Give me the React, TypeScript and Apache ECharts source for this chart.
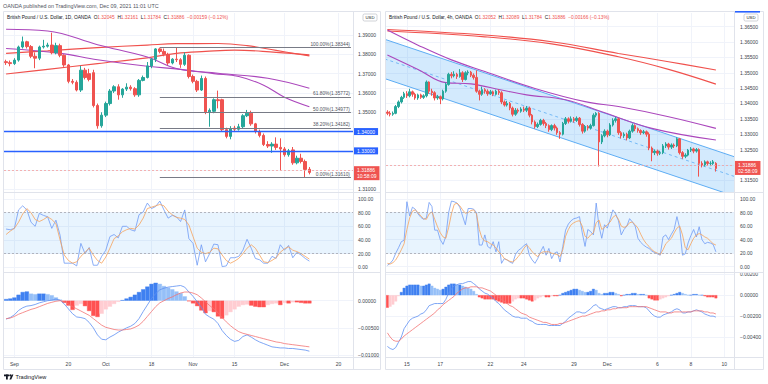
import React, { useEffect, useRef } from 'react';
import * as echarts from 'echarts';

// ---------------- categories ----------------
function weekdays(start: string, count: number): string[] {
  const out: string[] = [];
  const d = new Date(start + 'T00:00:00Z');
  while (out.length < count) {
    const w = d.getUTCDay();
    if (w !== 0 && w !== 6) out.push(d.toISOString().slice(0, 10));
    d.setUTCDate(d.getUTCDate() + 1);
  }
  return out;
}
const leftDates = weekdays('2021-08-30', 84);
const leftTickLabels: Record<string, string> = {
  '2021-09-01': 'Sep', '2021-09-20': '20', '2021-10-01': 'Oct', '2021-10-18': '18',
  '2021-11-01': 'Nov', '2021-11-15': '15', '2021-12-01': 'Dec', '2021-12-20': '20',
};
const hours4 = ['00', '04', '08', '12', '16', '20'];
const rightPrefix = ['11-12 00', '11-12 04', '11-12 08', '11-12 12', '11-12 16', '11-12 20', '11-14 21'];
const rightDates: string[] = rightPrefix
  .concat(...weekdays('2021-11-15', 20).map((d) => hours4.map((h) => d.slice(5) + ' ' + h)))
  .slice(0, 125);
const rightTickLabels: Record<string, string> = {
  '11-15 00': '15', '11-17 00': '17', '11-22 00': '22', '11-24 00': '24', '11-29 00': '29',
  '12-01 00': 'Dec', '12-06 00': '6', '12-08 00': '8', '12-10 00': '10',
};

// ---------------- left (1D) ----------------
// [open, close, low, high]
const leftOHLC = [
  [1.3762, 1.3757, 1.3745, 1.3772], [1.3757, 1.3752, 1.3738, 1.3768], [1.3752, 1.3770, 1.3745, 1.3780],
  [1.3770, 1.3838, 1.3762, 1.3845], [1.3838, 1.3865, 1.3830, 1.3892], [1.3865, 1.3840, 1.3830, 1.3870],
  [1.3840, 1.3790, 1.3780, 1.3848], [1.3790, 1.3780, 1.3728, 1.3810], [1.3780, 1.3838, 1.3770, 1.3845],
  [1.3838, 1.3842, 1.3830, 1.3875], [1.3842, 1.3848, 1.3835, 1.3860], [1.3848, 1.3808, 1.3800, 1.3912],
  [1.3808, 1.3845, 1.3800, 1.3860], [1.3845, 1.3795, 1.3785, 1.3855], [1.3795, 1.3745, 1.3735, 1.3800],
  [1.3745, 1.3660, 1.3650, 1.3750], [1.3660, 1.3655, 1.3645, 1.3672], [1.3655, 1.3615, 1.3608, 1.3665],
  [1.3615, 1.3718, 1.3605, 1.3740], [1.3718, 1.3680, 1.3670, 1.3730], [1.3700, 1.3670, 1.3660, 1.3725],
  [1.3705, 1.3535, 1.3525, 1.3720], [1.3535, 1.3430, 1.3415, 1.3545], [1.3430, 1.3485, 1.3420, 1.3500],
  [1.3485, 1.3545, 1.3475, 1.3555], [1.3545, 1.3610, 1.3535, 1.3620], [1.3610, 1.3632, 1.3600, 1.3640],
  [1.3632, 1.3590, 1.3565, 1.3645], [1.3590, 1.3620, 1.3575, 1.3625], [1.3620, 1.3630, 1.3610, 1.3650],
  [1.3630, 1.3622, 1.3612, 1.3640], [1.3622, 1.3590, 1.3580, 1.3630], [1.3590, 1.3665, 1.3580, 1.3672],
  [1.3665, 1.3680, 1.3660, 1.3690], [1.3680, 1.3740, 1.3675, 1.3760], [1.3740, 1.3775, 1.3728, 1.3780],
  [1.3775, 1.3828, 1.3760, 1.3832], [1.3828, 1.3815, 1.3805, 1.38344], [1.3815, 1.3800, 1.3790, 1.3830],
  [1.3800, 1.3755, 1.3745, 1.3808], [1.3755, 1.3775, 1.3748, 1.3780], [1.3775, 1.3772, 1.3760, 1.3835],
  [1.3772, 1.3748, 1.3730, 1.3780], [1.3748, 1.3795, 1.3740, 1.3810], [1.3795, 1.3685, 1.3675, 1.3800],
  [1.3685, 1.3660, 1.3650, 1.3695], [1.3660, 1.3615, 1.3605, 1.3668], [1.3615, 1.3675, 1.3610, 1.3690],
  [1.3675, 1.3502, 1.3490, 1.3685], [1.3502, 1.3510, 1.3425, 1.3520], [1.3505, 1.3565, 1.3495, 1.3572],
  [1.3565, 1.3560, 1.3520, 1.3612], [1.3565, 1.3410, 1.3400, 1.3570], [1.3410, 1.3375, 1.3365, 1.3420],
  [1.3375, 1.3415, 1.3360, 1.3428], [1.3418, 1.3412, 1.3400, 1.3430], [1.3412, 1.3425, 1.3405, 1.3440],
  [1.3425, 1.3482, 1.3418, 1.3490], [1.3482, 1.3495, 1.3475, 1.3512], [1.3495, 1.3440, 1.3430, 1.3508],
  [1.3440, 1.3400, 1.3390, 1.3445], [1.3400, 1.3380, 1.3370, 1.3410], [1.3380, 1.3333, 1.3325, 1.3390],
  [1.3333, 1.3325, 1.3315, 1.3350], [1.3325, 1.3335, 1.3290, 1.3345], [1.3335, 1.3318, 1.3305, 1.3370],
  [1.3318, 1.3310, 1.3200, 1.3365], [1.3310, 1.3280, 1.3270, 1.3320], [1.3280, 1.3300, 1.3270, 1.3310],
  [1.3305, 1.3238, 1.3228, 1.3320], [1.3238, 1.3262, 1.3230, 1.3275], [1.3262, 1.3245, 1.3235, 1.3285],
  [1.3245, 1.3204, 1.3161, 1.3255], [1.32045, 1.31886, 1.31784, 1.32161],
];
const leftMaRedA = [[0, 1.3805], [10, 1.3818], [22, 1.3835], [34, 1.3848], [41, 1.3855], [51, 1.3856], [58, 1.3845], [65, 1.3820], [73, 1.3792]];
const leftMaRedB = [[0, 1.3698], [10, 1.3722], [22, 1.3752], [34, 1.3782], [41, 1.3805], [48, 1.3815], [55, 1.3822], [65, 1.3810], [73, 1.3797]];
const leftMaPurpleA = [[0, 1.3930], [10, 1.3921], [22, 1.3850], [34, 1.3786], [41, 1.3727], [51, 1.3702], [63, 1.3676], [73, 1.3624]];
const leftMaPurpleB = [[0, 1.3830], [13, 1.3805], [22, 1.3772], [34, 1.3738], [42, 1.3722], [50, 1.3700], [56, 1.3685], [62, 1.3640], [67, 1.3578], [73, 1.3529]];
const fibHigh = 1.38344;
const fibLow = 1.31610;
const fibRatios = [1, 0.618, 0.5, 0.382, 0];
const fibStartIndex = 37;
const leftLevels = [1.34, 1.33];
const leftLast = { price: 1.31886, price_text: '1.31886', timer: '10:58:09' };
const leftRsiK = [56, 55, 57, 84, 90, 84, 66, 60, 79, 76, 74, 57, 69, 47, 6, 6, 6, 2, 35, 20, 29, 3, 3, 16, 25, 45, 48, 43, 60, 60, 55, 53, 77, 81, 94, 86, 89, 97, 84, 72, 76, 74, 67, 84, 42, 35, 3, 33, 8, 20, 34, 33, 1, 2, 14, 14, 16, 25, 41, 28, 13, 11, 6, 6, 16, 13, 33, 25, 32, 14, 22, 18, 13, 9];
const leftRsiD = [48, 53, 57, 66, 78, 86, 80, 70, 67, 70, 74, 70, 64, 40, 18, 10, 6, 8, 16, 22, 28, 18, 10, 6, 15, 28, 42, 46, 52, 55, 57, 56, 62, 72, 86, 88, 90, 92, 90, 82, 77, 73, 72, 70, 62, 45, 28, 22, 20, 22, 28, 27, 18, 10, 6, 9, 13, 20, 28, 33, 28, 18, 8, 7, 10, 14, 22, 27, 30, 25, 23, 20, 16, 12];
const leftMacd = [-0.0034, -0.0031, -0.0026, -0.0018, -0.0013, -0.0010, -0.0009, -0.0007, -0.0004, -0.0002, 0.0000, 0.0001, 0.0003, 0.0001, -0.0006, -0.0015, -0.0024, -0.0030, -0.0031, -0.0033, -0.0040, -0.0050, -0.0063, -0.0071, -0.0072, -0.0067, -0.0063, -0.0058, -0.0054, -0.0050, -0.0047, -0.0042, -0.0033, -0.0020, -0.0008, 0.0004, 0.0013, 0.0020, 0.0023, 0.0025, 0.0026, 0.0027, 0.0028, 0.0025, 0.0016, 0.0008, -0.0002, -0.0012, -0.0025, -0.0030, -0.0034, -0.0042, -0.0055, -0.0064, -0.0071, -0.0075, -0.0073, -0.0066, -0.0063, -0.0067, -0.0072, -0.0076, -0.0079, -0.0082, -0.0085, -0.0086, -0.0087, -0.0087, -0.0088, -0.0088, -0.0089, -0.0090, -0.0091, -0.0093];
const leftSignal = [-0.0033, -0.0032, -0.0029, -0.0025, -0.0022, -0.0019, -0.0016, -0.0014, -0.0011, -0.0008, -0.0005, -0.0003, -0.0001, 0.0000, -0.0002, -0.0006, -0.0011, -0.0015, -0.0019, -0.0023, -0.0027, -0.0033, -0.0039, -0.0045, -0.0049, -0.0051, -0.0053, -0.0054, -0.0054, -0.0053, -0.0052, -0.0049, -0.0045, -0.0038, -0.0029, -0.0020, -0.0011, -0.0004, 0.0000, 0.0004, 0.0007, 0.0011, 0.0014, 0.0016, 0.0016, 0.0014, 0.0011, 0.0005, -0.0002, -0.0009, -0.0015, -0.0022, -0.0031, -0.0039, -0.0046, -0.0052, -0.0057, -0.0060, -0.0062, -0.0064, -0.0066, -0.0068, -0.0070, -0.0072, -0.0074, -0.0076, -0.0077, -0.0079, -0.0080, -0.0081, -0.0082, -0.0083, -0.0084, -0.0085];
const leftHist = [0.0003, 0.0004, 0.0006, 0.0011, 0.0016, 0.0017, 0.0013, 0.0012, 0.0013, 0.0013, 0.0012, 0.0010, 0.0006, 0.0002, -0.0004, -0.0009, -0.0017, -0.0009, -0.0006, -0.0010, -0.0019, -0.0028, -0.0030, -0.0024, -0.0016, -0.0011, -0.0006, -0.0002, 0.0001, 0.0004, 0.0007, 0.0011, 0.0016, 0.0021, 0.0026, 0.0031, 0.0033, 0.0031, 0.0027, 0.0024, 0.0021, 0.0017, 0.0014, 0.0008, -0.0001, -0.0005, -0.0010, -0.0018, -0.0023, -0.0019, -0.0021, -0.0029, -0.0033, -0.0027, -0.0021, -0.0016, -0.0011, -0.0008, -0.0007, -0.0009, -0.0011, -0.0012, -0.0012, -0.0008, -0.0006, -0.0005, -0.0008, -0.0004, -0.0005, -0.0003, -0.0003, -0.0004, -0.0005, -0.0005];
const leftPriceTicks = [1.31, 1.32, 1.33, 1.34, 1.35, 1.36, 1.37, 1.38, 1.39];
// 1.32000 sits under the last-price tag in the reference
const leftPriceLabels = [1.31, 1.33, 1.34, 1.35, 1.36, 1.37, 1.38, 1.39];
const leftMacdTicks = [0, -0.005, -0.01];

// ---------------- right (4h) ----------------
const rightOHLC = [
  [1.3372, 1.3368, 1.3362, 1.3378], [1.3368, 1.3365, 1.3358, 1.3375], [1.3365, 1.3368, 1.3360, 1.3374],
  [1.3368, 1.3390, 1.3365, 1.3395], [1.3390, 1.3405, 1.3385, 1.3410], [1.3405, 1.3420, 1.3400, 1.3425],
  [1.3420, 1.3432, 1.3415, 1.3438], [1.3432, 1.3425, 1.3418, 1.3440], [1.3425, 1.3438, 1.3420, 1.3448],
  [1.3438, 1.3430, 1.3422, 1.3442], [1.3430, 1.3418, 1.3412, 1.3435], [1.3418, 1.3428, 1.3412, 1.3432],
  [1.3428, 1.3420, 1.3415, 1.3432], [1.3420, 1.3425, 1.3415, 1.3430], [1.3425, 1.3470, 1.3420, 1.3475],
  [1.3470, 1.3440, 1.3432, 1.3472], [1.3440, 1.3435, 1.3425, 1.3448], [1.3435, 1.3418, 1.3410, 1.3440],
  [1.3418, 1.3422, 1.3412, 1.3428], [1.3422, 1.3415, 1.3398, 1.3426], [1.3415, 1.3440, 1.3410, 1.3445],
  [1.3440, 1.3462, 1.3435, 1.3468], [1.3462, 1.3495, 1.3458, 1.3500], [1.3495, 1.3490, 1.3482, 1.3502],
  [1.3490, 1.3495, 1.3485, 1.3505], [1.3495, 1.3488, 1.3480, 1.3500], [1.3488, 1.3500, 1.3484, 1.3512],
  [1.3500, 1.3478, 1.3470, 1.3505], [1.3478, 1.3500, 1.3475, 1.3505], [1.3500, 1.3502, 1.3492, 1.3508],
  [1.3502, 1.3492, 1.3486, 1.3506], [1.3492, 1.3485, 1.3478, 1.3498], [1.3485, 1.3440, 1.3435, 1.3508],
  [1.3440, 1.3430, 1.3410, 1.3445], [1.3430, 1.3445, 1.3425, 1.3455], [1.3445, 1.3440, 1.3432, 1.3450],
  [1.3440, 1.3432, 1.3425, 1.3446], [1.3432, 1.3438, 1.3428, 1.3444], [1.3438, 1.3430, 1.3424, 1.3442],
  [1.3430, 1.3440, 1.3426, 1.3445], [1.3440, 1.3435, 1.3428, 1.3446], [1.3435, 1.3405, 1.3398, 1.3440],
  [1.3405, 1.3395, 1.3390, 1.3410], [1.3395, 1.3400, 1.3390, 1.3408], [1.3400, 1.3385, 1.3378, 1.3405],
  [1.3385, 1.3365, 1.3358, 1.3390], [1.3365, 1.3378, 1.3360, 1.3385], [1.3378, 1.3375, 1.3368, 1.3384],
  [1.3375, 1.3382, 1.3370, 1.3388], [1.3382, 1.3378, 1.3372, 1.3390], [1.3378, 1.3385, 1.3372, 1.3392],
  [1.3385, 1.3362, 1.3355, 1.3390], [1.3362, 1.3340, 1.3332, 1.3366], [1.3340, 1.3325, 1.3318, 1.3345],
  [1.3325, 1.3332, 1.3320, 1.3338], [1.3332, 1.3345, 1.3328, 1.3350], [1.3345, 1.3335, 1.3328, 1.3350],
  [1.3335, 1.3328, 1.3320, 1.3340], [1.3328, 1.3315, 1.3308, 1.3332], [1.3315, 1.3328, 1.3310, 1.3332],
  [1.3328, 1.3320, 1.3312, 1.3334], [1.3320, 1.3305, 1.3298, 1.3325], [1.3305, 1.3300, 1.3285, 1.3310],
  [1.3300, 1.3335, 1.3296, 1.3340], [1.3335, 1.3350, 1.3330, 1.3356], [1.3350, 1.3342, 1.3335, 1.3355],
  [1.3342, 1.3350, 1.3338, 1.3358], [1.3350, 1.3345, 1.3338, 1.3356], [1.3345, 1.3352, 1.3340, 1.3358],
  [1.3352, 1.3332, 1.3325, 1.3356], [1.3332, 1.3310, 1.3302, 1.3336], [1.3310, 1.3325, 1.3305, 1.3330],
  [1.3325, 1.3320, 1.3312, 1.3330], [1.3320, 1.3328, 1.3315, 1.3334], [1.3328, 1.3362, 1.3325, 1.3368],
  [1.3362, 1.3368, 1.3355, 1.3372], [1.3368, 1.3275, 1.3195, 1.3372], [1.3275, 1.3295, 1.3268, 1.3300],
  [1.3295, 1.3310, 1.3290, 1.3316], [1.3310, 1.3298, 1.3290, 1.3315], [1.3298, 1.3330, 1.3294, 1.3336],
  [1.3330, 1.3345, 1.3325, 1.3352], [1.3345, 1.3350, 1.3338, 1.3356], [1.3350, 1.3305, 1.3298, 1.3354],
  [1.3305, 1.3295, 1.3286, 1.3310], [1.3295, 1.3300, 1.3288, 1.3306], [1.3300, 1.3288, 1.3280, 1.3305],
  [1.3288, 1.3310, 1.3284, 1.3315], [1.3310, 1.3328, 1.3305, 1.3335], [1.3328, 1.3318, 1.3310, 1.3332],
  [1.3318, 1.3312, 1.3305, 1.3322], [1.3312, 1.3305, 1.3298, 1.3316], [1.3305, 1.3308, 1.3300, 1.3314],
  [1.3308, 1.3300, 1.3292, 1.3312], [1.3300, 1.3255, 1.3248, 1.3306], [1.3255, 1.3240, 1.3212, 1.3260],
  [1.3240, 1.3245, 1.3232, 1.3250], [1.3245, 1.3238, 1.3230, 1.3250], [1.3238, 1.3240, 1.3232, 1.3246],
  [1.3240, 1.3262, 1.3235, 1.3268], [1.3262, 1.3268, 1.3255, 1.3274], [1.3268, 1.3258, 1.3250, 1.3272],
  [1.3258, 1.3265, 1.3252, 1.3270], [1.3265, 1.3262, 1.3255, 1.3270], [1.3262, 1.3285, 1.3258, 1.3290],
  [1.3285, 1.3240, 1.3234, 1.3288], [1.3240, 1.3228, 1.3220, 1.3245], [1.3228, 1.3232, 1.3222, 1.3238],
  [1.3232, 1.3248, 1.3228, 1.3252], [1.3248, 1.3252, 1.3242, 1.3258], [1.3252, 1.3245, 1.3238, 1.3256],
  [1.3245, 1.3250, 1.3240, 1.3255], [1.3250, 1.3205, 1.3162, 1.3254], [1.3205, 1.3200, 1.3192, 1.3212],
  [1.3200, 1.3210, 1.3195, 1.3215], [1.3210, 1.3205, 1.3198, 1.3214], [1.3205, 1.3205, 1.3196, 1.3212],
  [1.3205, 1.3210, 1.3200, 1.3216], [1.32052, 1.31886, 1.31784, 1.32089],
];
const rightMaRedA = [[0, 1.3641], [35, 1.3623], [59, 1.3601], [83, 1.3563], [101, 1.3536], [118, 1.3509]];
const rightMaRedB = [[0, 1.3636], [35, 1.3617], [59, 1.3594], [83, 1.3552], [101, 1.3511], [118, 1.3463]];
const rightMaPurpleA = [[0, 1.3639], [11, 1.3590], [23, 1.3542], [35, 1.3504], [53, 1.3449], [71, 1.3406], [83, 1.3390], [101, 1.3357], [118, 1.3319]];
const rightMaPurpleB = [[0, 1.3558], [11, 1.3511], [21, 1.3468], [30, 1.3464], [41, 1.3444], [50, 1.3428], [64, 1.3412], [77, 1.3373], [95, 1.3319], [118, 1.3281]];
// channel: [barIndex, price] endpoints
const channelUpper = [[-1, 1.36092], [125, 1.32255]];
const channelLower = [[-1, 1.34812], [125, 1.30975]];
const rightLast = { price: 1.31886, price_text: '1.31886', timer: '02:58:09' };
const rightRsiK = [2, 5, 10, 20, 28, 37, 39, 96, 75, 88, 85, 78, 73, 70, 72, 95, 89, 54, 54, 40, 33, 45, 80, 97, 96, 94, 88, 75, 62, 86, 86, 85, 80, 32, 32, 47, 30, 27, 37, 22, 37, 5, 12, 10, 7, 5, 18, 24, 27, 31, 34, 17, 10, 5, 12, 22, 30, 17, 27, 12, 20, 22, 7, 30, 54, 63, 68, 71, 72, 74, 50, 30, 55, 52, 47, 94, 60, 42, 62, 57, 70, 84, 78, 68, 47, 55, 60, 71, 66, 60, 42, 36, 32, 29, 27, 23, 21, 19, 17, 44, 47, 40, 48, 55, 74, 57, 17, 19, 35, 46, 55, 44, 59, 40, 34, 36, 35, 33, 22];
const rightRsiD = [5, 4, 6, 10, 17, 25, 34, 55, 72, 82, 84, 80, 75, 71, 70, 78, 81, 70, 59, 50, 44, 42, 58, 78, 92, 94, 90, 84, 79, 80, 83, 84, 78, 55, 42, 38, 37, 34, 32, 28, 22, 18, 12, 10, 8, 7, 10, 15, 20, 27, 32, 28, 22, 18, 15, 20, 22, 22, 22, 20, 19, 18, 15, 25, 45, 55, 62, 65, 67, 68, 60, 45, 42, 47, 50, 65, 69, 55, 58, 62, 66, 73, 76, 70, 60, 58, 60, 65, 66, 62, 57, 48, 40, 34, 30, 25, 22, 20, 18, 25, 34, 38, 42, 50, 57, 60, 47, 28, 25, 34, 42, 47, 49, 47, 44, 42, 38, 34, 32];
const rightMacd = [-0.0049, -0.0051, -0.0052, -0.0050, -0.0045, -0.0040, -0.0032, -0.0028, -0.0024, -0.0022, -0.0021, -0.0020, -0.0018, -0.0017, -0.0014, -0.0010, -0.0009, -0.0008, -0.0008, -0.0008, -0.0008, -0.0004, 0.0002, 0.0006, 0.0009, 0.0010, 0.0011, 0.0011, 0.0012, 0.0013, 0.0013, 0.0011, 0.0009, 0.0006, 0.0004, 0.0002, 0.0001, -0.0001, -0.0003, -0.0006, -0.0008, -0.0011, -0.0014, -0.0016, -0.0018, -0.0020, -0.0021, -0.0021, -0.0022, -0.0022, -0.0022, -0.0024, -0.0025, -0.0027, -0.0028, -0.0028, -0.0028, -0.0028, -0.0029, -0.0029, -0.0029, -0.0029, -0.0029, -0.0027, -0.0025, -0.0022, -0.0020, -0.0018, -0.0016, -0.0016, -0.0017, -0.0017, -0.0015, -0.0013, -0.0010, -0.0009, -0.0012, -0.0013, -0.0014, -0.0013, -0.0012, -0.0011, -0.0011, -0.0012, -0.0012, -0.0011, -0.0011, -0.0010, -0.0010, -0.0010, -0.0011, -0.0011, -0.0011, -0.0012, -0.0015, -0.0018, -0.0020, -0.0021, -0.0021, -0.0019, -0.0018, -0.0017, -0.0016, -0.0014, -0.0013, -0.0014, -0.0017, -0.0017, -0.0016, -0.0016, -0.0015, -0.0014, -0.0015, -0.0016, -0.0018, -0.0019, -0.0020, -0.0020, -0.0021];
const rightSignal = [-0.0036, -0.0040, -0.0043, -0.0044, -0.0044, -0.0042, -0.0039, -0.0037, -0.0035, -0.0033, -0.0031, -0.0029, -0.0027, -0.0025, -0.0023, -0.0021, -0.0019, -0.0017, -0.0014, -0.0012, -0.0009, -0.0007, -0.0005, -0.0003, -0.0001, 0.0002, 0.0004, 0.0006, 0.0007, 0.0007, 0.0008, 0.0008, 0.0008, 0.0007, 0.0007, 0.0006, 0.0005, 0.0004, 0.0002, 0.0000, -0.0002, -0.0004, -0.0006, -0.0008, -0.0010, -0.0011, -0.0013, -0.0015, -0.0017, -0.0018, -0.0019, -0.0021, -0.0022, -0.0023, -0.0024, -0.0025, -0.0026, -0.0026, -0.0027, -0.0028, -0.0028, -0.0028, -0.0027, -0.0027, -0.0026, -0.0025, -0.0024, -0.0023, -0.0022, -0.0021, -0.0020, -0.0020, -0.0019, -0.0018, -0.0017, -0.0016, -0.0016, -0.0015, -0.0015, -0.0014, -0.0014, -0.0013, -0.0013, -0.0012, -0.0012, -0.0012, -0.0012, -0.0011, -0.0011, -0.0011, -0.0011, -0.0011, -0.0011, -0.0011, -0.0012, -0.0013, -0.0014, -0.0015, -0.0016, -0.0016, -0.0016, -0.0017, -0.0017, -0.0016, -0.0016, -0.0016, -0.0016, -0.0016, -0.0016, -0.0016, -0.0015, -0.0015, -0.0015, -0.0015, -0.0016, -0.0016, -0.0017, -0.0017, -0.0018];
const rightHist = [-0.0012, -0.0011, -0.0009, -0.0006, -0.0001, 0.0003, 0.0007, 0.0009, 0.0010, 0.0010, 0.0010, 0.0010, 0.0009, 0.0009, 0.0010, 0.0011, 0.0009, 0.0007, 0.0006, 0.0005, 0.0006, 0.0008, 0.0010, 0.0011, 0.0011, 0.0010, 0.0010, 0.0009, 0.0008, 0.0007, 0.0006, 0.0004, 0.0001, -0.0002, -0.0003, -0.0004, -0.0004, -0.0004, -0.0004, -0.0005, -0.0006, -0.0007, -0.0008, -0.0008, -0.0008, -0.0006, -0.0004, -0.0003, -0.0003, -0.0003, -0.0004, -0.0005, -0.0006, -0.0005, -0.0003, -0.0002, -0.0001, -0.0002, -0.0002, -0.0001, -0.0001, -0.0001, 0.0000, 0.0002, 0.0003, 0.0004, 0.0005, 0.0006, 0.0006, 0.0005, 0.0004, 0.0003, 0.0003, 0.0004, 0.0006, 0.0005, 0.0002, 0.0001, 0.0002, 0.0002, 0.0003, 0.0003, 0.0002, 0.0001, -0.0001, 0.0000, 0.0001, 0.0001, 0.0002, 0.0002, 0.0001, 0.0001, 0.0001, 0.0000, -0.0003, -0.0004, -0.0005, -0.0005, -0.0004, -0.0003, -0.0002, -0.0001, 0.0000, 0.0001, 0.0002, 0.0003, 0.0002, 0.0001, 0.0000, 0.0000, 0.0001, 0.0001, 0.0000, 0.0000, -0.0001, -0.0002, -0.0002, -0.0002, -0.0003];
const rightPriceTicks = [1.315, 1.32, 1.325, 1.33, 1.335, 1.34, 1.345, 1.35, 1.355, 1.36, 1.365];
// 1.32000 sits under the last-price tag in the reference
const rightPriceLabels = [1.315, 1.325, 1.33, 1.335, 1.34, 1.345, 1.35, 1.355, 1.36, 1.365];
const rightMacdTicks = [0.002, 0, -0.002, -0.004];
const rsiTicks = [0, 20, 40, 60, 80, 100];

const leftHeader = { name: 'British Pound / U.S. Dollar, 1D, OANDA', o: '1.32045', h: '1.32161', l: '1.31784', c: '1.31886', chg: '\u22120.00159 (\u22120.12%)' };
const rightHeader = { name: 'British Pound / U.S. Dollar, 4h, OANDA', o: '1.32052', h: '1.32089', l: '1.31784', c: '1.31886', chg: '\u22120.00166 (\u22120.13%)' };
const publishedText = 'OANDA published on TradingView.com, Dec 09, 2021 11:01 UTC';

// ---------------- styling ----------------
const FONT = '"Liberation Sans", Arial, sans-serif';
const UP = '#26A69A';
const DOWN = '#EF5350';
const GRID_LINE = '#F0F3FA';
const AXIS_TEXT = '#3B3F4A';
const BORDER = '#E0E3EB';

function fmtMacd(v: number) {
  if (Math.abs(v) < 1e-12) return '0.00000';
  return (v < 0 ? '\u2212' : '') + Math.abs(v).toFixed(5);
}

function histData(vals: number[]) {
  return vals.map((v, i) => {
    const prev = i > 0 ? vals[i - 1] : v;
    let c;
    if (v >= 0) c = v >= prev ? '#3F80F1' : '#95BFF8';
    else c = v <= prev ? '#FF5252' : '#FFCDD2';
    return { value: v, itemStyle: { color: c, borderColor: c, borderWidth: 0.4 } };
  });
}

function mkX(gridIndex: number, data: string[], labels: Record<string, string>, showLabel: boolean) {
  return {
    type: 'category', gridIndex, data, boundaryGap: true,
    axisLine: { show: false }, axisTick: { show: false },
    axisLabel: {
      show: showLabel,
      interval: (_i: number, v: string) => labels[v] !== undefined,
      formatter: (v: string) => labels[v] ?? '',
      fontSize: 5, color: AXIS_TEXT, margin: 4, fontFamily: FONT,
    },
    splitLine: {
      show: true, alignWithLabel: true,
      interval: (_i: number, v: string) => labels[v] !== undefined,
      lineStyle: { color: GRID_LINE, width: 1 },
    },
  };
}

function mkY(gridIndex: number, min: number, max: number, ticks: number[], labelVals: number[], fmt: (v: number) => string, margin: number) {
  return {
    type: 'value', gridIndex, position: 'right', min, max, scale: true,
    axisLine: { show: false },
    axisTick: { show: false, customValues: ticks },
    axisLabel: { customValues: labelVals, formatter: fmt, fontSize: 5, color: AXIS_TEXT, margin, fontFamily: FONT },
    splitLine: { show: true, lineStyle: { color: GRID_LINE, width: 1 } },
  };
}

function maLine(xi: number, data: number[][], color: string, width: number) {
  return {
    type: 'line', xAxisIndex: xi, yAxisIndex: xi, data, smooth: 0.4, symbol: 'none', silent: true,
    lineStyle: { color, width }, z: 3,
  };
}

function lastPriceMark(last: { price: number; price_text: string; timer: string }) {
  return {
    yAxis: last.price,
    lineStyle: { color: '#F4A09E', width: 0.8, type: [2, 2] },
    label: {
      show: true, position: 'end', formatter: last.price_text + '\n' + last.timer,
      backgroundColor: DOWN, color: '#ffffff', fontSize: 5, lineHeight: 6, padding: [1, 3, 1, 3],
      distance: 1, offset: [0, 3], fontFamily: FONT, opacity: 1,
    },
  };
}

function rsiSeries(xi: number, k: number[], d: number[]) {
  return [
    {
      type: 'line', xAxisIndex: xi, yAxisIndex: xi, data: k, symbol: 'none', silent: true,
      lineStyle: { color: '#6E9BF5', width: 0.8 },
      markArea: { silent: true, itemStyle: { color: 'rgba(33,150,243,0.1)' }, data: [[{ yAxis: 80 }, { yAxis: 20 }]] },
      markLine: {
        silent: true, symbol: ['none', 'none'], label: { show: false },
        lineStyle: { color: '#A3A6AF', type: [2, 2], width: 0.8 }, data: [{ yAxis: 80 }, { yAxis: 20 }],
      },
    },
    { type: 'line', xAxisIndex: xi, yAxisIndex: xi, data: d, symbol: 'none', silent: true, lineStyle: { color: '#F6A25A', width: 0.8 } },
  ];
}

function macdSeries(xi: number, hist: number[], macd: number[], signal: number[]) {
  return [
    { type: 'bar', xAxisIndex: xi, yAxisIndex: xi, data: histData(hist), barWidth: '100%', silent: true },
    { type: 'line', xAxisIndex: xi, yAxisIndex: xi, data: macd, symbol: 'none', silent: true, lineStyle: { color: '#5E8FF2', width: 0.8 } },
    { type: 'line', xAxisIndex: xi, yAxisIndex: xi, data: signal, symbol: 'none', silent: true, lineStyle: { color: '#F27474', width: 0.8 } },
  ];
}

function header(x: number, h: typeof leftHeader) {
  return {
    type: 'text', x, y: 17, z: 20,
    style: {
      text: `{n|${h.name}}  {k|O}{v|${h.o}}  {k|H}{v|${h.h}}  {k|L}{v|${h.l}}  {k|C}{v|${h.c}}  {v|${h.chg}}`,
      verticalAlign: 'middle', fontFamily: FONT, fontSize: 4.8,
      rich: {
        n: { fill: '#131722', fontSize: 4.8, fontFamily: FONT },
        k: { fill: '#131722', fontSize: 4.8, fontFamily: FONT },
        v: { fill: DOWN, fontSize: 4.8, fontFamily: FONT },
      },
    },
  };
}

function panelFrame(x0: number, x1: number, axisX: number) {
  const els: any[] = [
    { type: 'rect', shape: { x: x0 + 0.5, y: 11.5, width: x1 - x0, height: 358 }, style: { fill: 'none', stroke: BORDER, lineWidth: 1 }, z: 15 },
    { type: 'line', shape: { x1: axisX + 0.5, y1: 12, x2: axisX + 0.5, y2: 369 }, style: { stroke: BORDER, lineWidth: 1 }, z: 15 },
  ];
  [192.5, 272.5, 357.5].forEach((y) => {
    els.push({ type: 'line', shape: { x1: x0, y1: y, x2: x1, y2: y }, style: { stroke: BORDER, lineWidth: 1 }, z: 15 });
  });
  return els;
}

function usdBox(x: number) {
  return [
    { type: 'rect', shape: { x, y: 14, width: 14, height: 7, r: 1.5 }, style: { fill: '#fff', stroke: '#B2B5BE', lineWidth: 0.6 }, z: 20 },
    { type: 'text', x: x + 7, y: 17.6, z: 21, style: { text: 'USD', fontSize: 4.3, fill: '#131722', align: 'center', verticalAlign: 'middle', fontFamily: FONT } },
  ];
}

function buildOption() {
  const fibMarks = fibRatios.map((r) => {
    const v = fibLow + r * (fibHigh - fibLow);
    return [
      {
        coord: [fibStartIndex, v],
        lineStyle: { color: '#787B86', width: 1, type: 'solid' },
        label: {
          show: true, position: 'insideEndTop', formatter: `${(r * 100).toFixed(2)}%(${v.toFixed(5)})`,
          fontSize: 4.8, color: '#50535E', distance: 1, fontFamily: FONT,
        },
      },
      { coord: [leftDates.length - 1, v] },
    ];
  });
  const levelMarks = leftLevels.map((v) => ({
    yAxis: v,
    lineStyle: { color: '#2962FF', width: 1.4, type: 'solid' },
    label: {
      show: true, position: 'end', formatter: v.toFixed(5), backgroundColor: '#2962FF', color: '#fff',
      fontSize: 5, padding: [1, 3, 1, 3], distance: 1, fontFamily: FONT,
    },
  }));

  const grids = [
    { left: 4, top: 13, width: 349, height: 179 },
    { left: 4, top: 193, width: 349, height: 79 },
    { left: 4, top: 273, width: 349, height: 84 },
    { left: 386, top: 13, width: 348, height: 179 },
    { left: 386, top: 193, width: 348, height: 79 },
    { left: 386, top: 273, width: 348, height: 84 },
  ].map((g) => ({ ...g, containLabel: false, outerBoundsMode: 'none' }));

  const xAxis = [
    mkX(0, leftDates, leftTickLabels, false),
    mkX(1, leftDates, leftTickLabels, false),
    mkX(2, leftDates, leftTickLabels, true),
    mkX(3, rightDates, rightTickLabels, false),
    mkX(4, rightDates, rightTickLabels, false),
    mkX(5, rightDates, rightTickLabels, true),
  ];
  const yAxis = [
    mkY(0, 1.3087, 1.4014, leftPriceTicks, leftPriceLabels, (v) => v.toFixed(5), 5),
    mkY(1, -6.9, 108.8, rsiTicks, rsiTicks, (v) => v.toFixed(2), 5),
    mkY(2, -0.01037, 0.0051, leftMacdTicks, leftMacdTicks, fmtMacd, 5),
    mkY(3, 1.31119, 1.36946, rightPriceTicks, rightPriceLabels, (v) => v.toFixed(5), 6),
    mkY(4, -7.8, 108.9, rsiTicks, rsiTicks, (v) => v.toFixed(2), 6),
    mkY(5, -0.00591, 0.00212, rightMacdTicks, rightMacdTicks, fmtMacd, 6),
  ];

  const candleStyle = { color: UP, color0: DOWN, borderColor: UP, borderColor0: DOWN, borderWidth: 1 };

  const series: any[] = [
    {
      type: 'candlestick', xAxisIndex: 0, yAxisIndex: 0, data: leftOHLC, barWidth: 3, silent: true,
      itemStyle: candleStyle, z: 4,
      markLine: {
        silent: true, symbol: ['none', 'none'], animation: false,
        data: [...fibMarks, ...levelMarks, lastPriceMark(leftLast)],
      },
    },
    maLine(0, leftMaRedA, '#F0514D', 1.2),
    maLine(0, leftMaRedB, '#F0514D', 1.2),
    maLine(0, leftMaPurpleA, '#AB47BC', 1.1),
    maLine(0, leftMaPurpleB, '#AB47BC', 1.1),
    ...rsiSeries(1, leftRsiK, leftRsiD),
    ...macdSeries(2, leftHist, leftMacd, leftSignal),
    {
      type: 'custom', xAxisIndex: 3, yAxisIndex: 3, clip: true, silent: true, z: 1,
      data: [[0, channelUpper[0][1], channelUpper[0][0], channelUpper[0][1], channelLower[0][1], channelUpper[1][0], channelUpper[1][1], channelLower[1][1]]],
      encode: { x: 0, y: 1 },
      renderItem: (_p: any, api: any) => {
        const xa = api.value(2), ua = api.value(3), la = api.value(4);
        const xb = api.value(5), ub = api.value(6), lb = api.value(7);
        const U0 = api.coord([xa, ua]), U1 = api.coord([xb, ub]);
        const L0 = api.coord([xa, la]), L1 = api.coord([xb, lb]);
        const M0 = api.coord([xa, (ua + la) / 2]), M1 = api.coord([xb, (ub + lb) / 2]);
        return {
          type: 'group',
          children: [
            { type: 'polygon', shape: { points: [U0, U1, L1, L0] }, style: { fill: 'rgba(33,150,243,0.2)' } },
            { type: 'line', shape: { x1: U0[0], y1: U0[1], x2: U1[0], y2: U1[1] }, style: { stroke: '#5DADF4', lineWidth: 1 } },
            { type: 'line', shape: { x1: L0[0], y1: L0[1], x2: L1[0], y2: L1[1] }, style: { stroke: '#5DADF4', lineWidth: 1 } },
            { type: 'line', shape: { x1: M0[0], y1: M0[1], x2: M1[0], y2: M1[1] }, style: { stroke: '#5DADF4', lineWidth: 0.8, lineDash: [3, 3] } },
          ],
        };
      },
    },
    {
      type: 'candlestick', xAxisIndex: 3, yAxisIndex: 3, data: rightOHLC, barWidth: 2, silent: true,
      itemStyle: candleStyle, z: 4,
      markLine: { silent: true, symbol: ['none', 'none'], animation: false, data: [lastPriceMark(rightLast)] },
    },
    maLine(3, rightMaRedA, '#F0514D', 1.1),
    maLine(3, rightMaRedB, '#F0514D', 1.1),
    maLine(3, rightMaPurpleA, '#AB47BC', 1.1),
    maLine(3, rightMaPurpleB, '#AB47BC', 1.1),
    ...rsiSeries(4, rightRsiK, rightRsiD),
    ...macdSeries(5, rightHist, rightMacd, rightSignal),
  ];

  const graphicEls: any[] = [
    { type: 'text', x: 3, y: 6, z: 20, style: { text: publishedText, fontSize: 5.4, fill: '#50535E', verticalAlign: 'middle', fontFamily: FONT } },
    ...panelFrame(3, 380, 353),
    ...panelFrame(385, 763, 734),
    header(7, leftHeader),
    header(389, rightHeader),
    ...usdBox(363),
    ...usdBox(744),
    { type: 'rect', shape: { x: 735, y: 11, width: 25, height: 1.6 }, style: { fill: '#2962FF' }, z: 20 },
    // TradingView logo
    { type: 'rect', shape: { x: 4, y: 374.5, width: 5, height: 1.8 }, style: { fill: '#131722' }, z: 20 },
    { type: 'rect', shape: { x: 6, y: 374.5, width: 1.8, height: 5 }, style: { fill: '#131722' }, z: 20 },
    { type: 'circle', shape: { cx: 10.2, cy: 375.4, r: 0.9 }, style: { fill: '#131722' }, z: 20 },
    { type: 'polygon', shape: { points: [[11.6, 374.5], [13.4, 374.5], [11.2, 379.5], [9.4, 379.5]] }, style: { fill: '#131722' }, z: 20 },
    { type: 'text', x: 15.5, y: 377, z: 20, style: { text: 'TradingView', fontSize: 5.6, fill: '#131722', verticalAlign: 'middle', fontFamily: FONT } },
  ];

  return {
    animation: false,
    backgroundColor: '#ffffff',
    textStyle: { fontFamily: FONT },
    grid: grids,
    xAxis,
    yAxis,
    series,
    graphic: { elements: graphicEls },
  };
}

export default function App() {
  const ref = useRef<HTMLDivElement>(null);
  useEffect(() => {
    if (!ref.current) return;
    const chart = echarts.init(ref.current, undefined, { renderer: 'svg' });
    chart.setOption(buildOption() as any);
    return () => chart.dispose();
  }, []);
  return <div ref={ref} style={{ position: 'absolute', left: 0, top: 0, width: 768, height: 384 }} />;
}
